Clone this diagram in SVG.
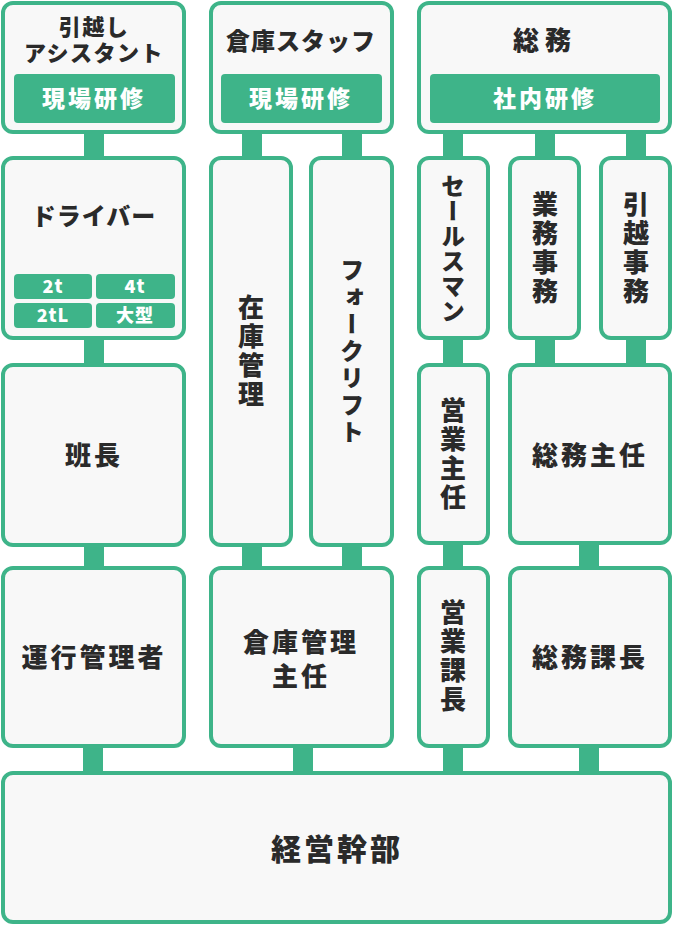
<svg xmlns="http://www.w3.org/2000/svg" width="673" height="926" viewBox="0 0 673 926">
<style>
.box{fill:#f8f8f8;stroke:#3eb489;stroke-width:4}
.badge{fill:#3eb489}
.con{fill:#3eb489}
text{font-family:"Noto Sans CJK JP","Noto Sans",sans-serif;font-weight:900;fill:#2a2a2a;text-anchor:middle}
.t{font-size:26px;letter-spacing:3px}
.tk{font-size:24px;letter-spacing:1px}
.ts{font-size:22px;letter-spacing:1.5px}
.w{fill:#ffffff;font-size:23px;letter-spacing:3px}
.ws{fill:#ffffff;font-size:18px;letter-spacing:1px}
.v{font-size:26px;letter-spacing:3px;writing-mode:vertical-rl}
.vk{font-size:24px;letter-spacing:1px;writing-mode:vertical-rl}
.big{font-size:30px;letter-spacing:3px}
</style>
<rect width="673" height="926" fill="#ffffff"/>
<g id="connectors">
<rect class="con" x="84" y="130" width="20" height="30"/>
<rect class="con" x="84" y="336" width="20" height="31"/>
<rect class="con" x="84" y="543" width="20" height="27"/>
<rect class="con" x="83" y="744" width="20" height="31"/>
<rect class="con" x="242" y="130" width="20" height="30"/>
<rect class="con" x="342" y="130" width="20" height="30"/>
<rect class="con" x="242" y="543" width="20" height="27"/>
<rect class="con" x="342" y="543" width="20" height="27"/>
<rect class="con" x="293" y="744" width="20" height="31"/>
<rect class="con" x="443" y="130" width="20" height="30"/>
<rect class="con" x="535" y="130" width="20" height="30"/>
<rect class="con" x="626" y="130" width="20" height="30"/>
<rect class="con" x="443" y="336" width="20" height="31"/>
<rect class="con" x="535" y="336" width="20" height="31"/>
<rect class="con" x="626" y="336" width="20" height="31"/>
<rect class="con" x="443" y="541" width="20" height="29"/>
<rect class="con" x="579" y="541" width="20" height="29"/>
<rect class="con" x="443" y="744" width="20" height="31"/>
<rect class="con" x="579" y="744" width="20" height="31"/>
</g>
<g id="hikkoshi-assistant">
<rect class="box" x="3" y="3" width="181" height="129" rx="10"/>
<text class="ts" x="94" y="35">引越し</text>
<text class="ts" x="94" y="61">アシスタント</text>
<rect class="badge" x="14" y="74" width="161" height="49" rx="4"/>
<text class="w" x="94" y="107">現場研修</text>
</g>
<g id="souko-staff">
<rect class="box" x="211" y="3" width="181" height="129" rx="10"/>
<text class="tk" x="301" y="50">倉庫スタッフ</text>
<rect class="badge" x="221" y="74" width="161" height="49" rx="4"/>
<text class="w" x="301" y="107">現場研修</text>
</g>
<g id="soumu">
<rect class="box" x="419" y="3" width="251" height="129" rx="10"/>
<text class="t" x="545" y="50" style="letter-spacing:6px">総務</text>
<rect class="badge" x="430" y="74" width="230" height="49" rx="4"/>
<text class="w" x="545" y="107">社内研修</text>
</g>
<g id="driver">
<rect class="box" x="3" y="158" width="181" height="180" rx="10"/>
<text class="tk" x="94" y="225">ドライバー</text>
<rect class="badge" x="14" y="274" width="78" height="25" rx="4"/>
<rect class="badge" x="96" y="274" width="79" height="25" rx="4"/>
<rect class="badge" x="14" y="303" width="78" height="25" rx="4"/>
<rect class="badge" x="96" y="303" width="79" height="25" rx="4"/>
<text class="ws" x="53" y="293">2t</text>
<text class="ws" x="135" y="293">4t</text>
<text class="ws" x="53" y="322">2tL</text>
<text class="ws" x="135" y="322">大型</text>
</g>
<g id="hanchou">
<rect class="box" x="3" y="365" width="181" height="180" rx="10"/>
<text class="t" x="94" y="465">班長</text>
</g>
<g id="unkou-kanrisha">
<rect class="box" x="3" y="568" width="181" height="178" rx="10"/>
<text class="t" x="94" y="667">運行管理者</text>
</g>
<g id="zaiko-kanri">
<rect class="box" x="211" y="158" width="80" height="387" rx="10"/>
<text class="v" x="251" y="352">在庫管理</text>
</g>
<g id="forklift">
<rect class="box" x="311" y="158" width="81" height="387" rx="10"/>
<text class="vk" x="352" y="352" style="letter-spacing:3px">フォークリフト</text>
</g>
<g id="souko-kanri-shunin">
<rect class="box" x="211" y="568" width="181" height="178" rx="10"/>
<text class="t" x="301" y="652">倉庫管理</text>
<text class="t" x="301" y="686">主任</text>
</g>
<g id="salesman">
<rect class="box" x="419" y="158" width="69" height="180" rx="10"/>
<text class="vk" x="453" y="249">セールスマン</text>
</g>
<g id="gyoumu-jimu">
<rect class="box" x="510" y="158" width="69" height="180" rx="10"/>
<text class="v" x="545" y="249">業務事務</text>
</g>
<g id="hikkoshi-jimu">
<rect class="box" x="601" y="158" width="69" height="180" rx="10"/>
<text class="v" x="636" y="249">引越事務</text>
</g>
<g id="eigyou-shunin">
<rect class="box" x="419" y="365" width="69" height="178" rx="10"/>
<text class="v" x="453" y="455">営業主任</text>
</g>
<g id="soumu-shunin">
<rect class="box" x="510" y="365" width="160" height="178" rx="10"/>
<text class="t" x="590" y="465">総務主任</text>
</g>
<g id="eigyou-kachou">
<rect class="box" x="419" y="568" width="69" height="178" rx="10"/>
<text class="v" x="453" y="657">営業課長</text>
</g>
<g id="soumu-kachou">
<rect class="box" x="510" y="568" width="160" height="178" rx="10"/>
<text class="t" x="590" y="667">総務課長</text>
</g>
<g id="keiei-kanbu">
<rect class="box" x="3" y="773" width="667" height="149" rx="10"/>
<text class="big" x="337" y="860">経営幹部</text>
</g>
</svg>
